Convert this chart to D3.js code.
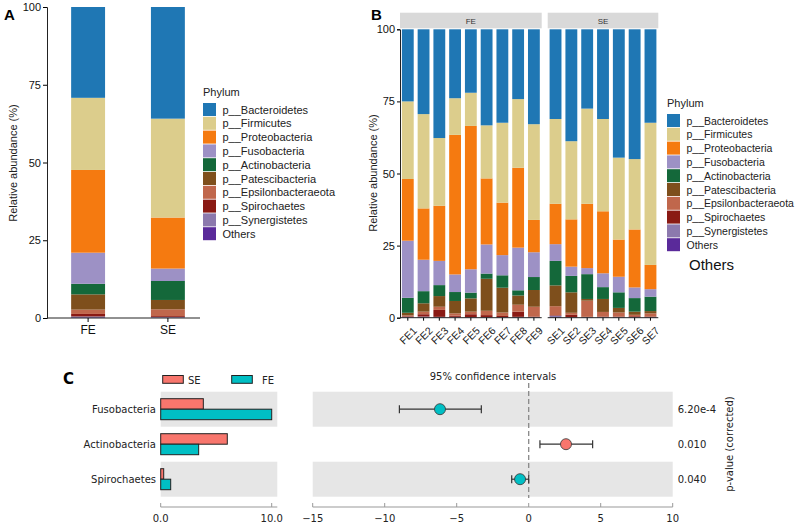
<!DOCTYPE html>
<html>
<head>
<meta charset="utf-8">
<script src="https://cdn.jsdelivr.net/npm/d3@7"></script>
<style>
body{margin:0;background:#fff}
svg text{font-family:Arial,"Liberation Sans",Helvetica,sans-serif}
.st text{font-family:"DejaVu Sans",sans-serif}
</style>
</head>
<body>
<div id="chart"></div>
<script>
var W=798,H=527

// phyla, bottom-to-top order in the legend
var phyla=["p__Bacteroidetes","p__Firmicutes","p__Proteobacteria","p__Fusobacteria","p__Actinobacteria","p__Patescibacteria","p__Epsilonbacteraeota","p__Spirochaetes","p__Synergistetes","Others"]
var colors=["#1f77b4","#dccd8c","#f57a10","#9d91c5","#14683a","#7e4f1c","#c0674c","#8a1a14","#8c79ad","#5a2a9a"]

// panel A, group means (%)
var groups=["FE","SE"]
var groupVals={
 "FE":[29.2,23.2,26.6,10.0,3.4,4.9,1.4,0.8,0.3,0.2],
 "SE":[35.9,31.8,16.4,4.0,6.1,3.0,2.2,0.3,0.2,0.1]
}

// panel B, per sample (%)
var feSamples=["FE1","FE2","FE3","FE4","FE5","FE6","FE7","FE8","FE9"]
var seSamples=["SE1","SE2","SE3","SE4","SE5","SE6","SE7"]
var sampleVals={
 "FE1":[25.0,26.9,21.4,19.8,5.2,0.9,0.3,0.2,0.2,0.1],
 "FE2":[29.4,32.7,17.8,10.9,4.2,2.9,0.9,0.8,0.3,0.1],
 "FE3":[37.7,23.5,19.1,8.4,3.8,3.7,1.1,2.4,0.2,0.1],
 "FE4":[23.9,12.7,48.4,6.1,3.1,4.3,0.8,0.4,0.2,0.1],
 "FE5":[22.0,11.5,49.7,8.1,2.0,4.6,0.9,1.0,0.1,0.1],
 "FE6":[33.3,18.4,22.9,10.1,1.8,11.1,1.5,0.7,0.1,0.1],
 "FE7":[32.4,27.7,18.2,7.0,4.3,8.6,1.2,0.4,0.1,0.1],
 "FE8":[24.2,23.8,27.7,14.8,1.8,3.2,2.4,1.8,0.2,0.1],
 "FE9":[32.9,33.2,11.2,8.6,4.5,5.8,3.4,0.2,0.1,0.1],
 "SE1":[31.1,29.4,14.0,5.8,8.5,7.2,3.1,0.2,0.5,0.2],
 "SE2":[38.8,27.1,16.4,3.2,5.7,7.1,0.7,0.8,0.1,0.1],
 "SE3":[27.5,33.0,22.3,2.1,8.6,0.6,5.6,0.1,0.1,0.1],
 "SE4":[31.1,32.0,21.5,4.8,4.1,4.5,1.6,0.2,0.1,0.1],
 "SE5":[44.5,28.4,12.9,5.4,5.4,1.6,1.4,0.2,0.1,0.1],
 "SE6":[45.0,24.4,20.1,3.7,4.7,1.1,0.5,0.3,0.1,0.1],
 "SE7":[32.4,49.3,8.4,2.6,5.0,0.8,1.1,0.2,0.1,0.1]
}
var yTicks=[0,25,50,75,100]

// panel C
var taxa=["Fusobacteria","Actinobacteria","Spirochaetes"]
var meanSE=[3.84,6.0,0.27]
var meanFE=[10.0,3.42,0.9]
var diff=[-6.16,2.59,-0.60]
var ciLow=[-8.98,0.78,-1.18]
var ciHigh=[-3.29,4.44,0.0]
var pvals=["6.20e-4","0.010","0.040"]
var barTicks=[0,10]
var ciTicks=[-15,-10,-5,0,5,10]

var svg=d3.select("#chart").append("svg").attr("width",W).attr("height",H)

function toRows(names,vals){
  return names.map(function(n){
    var r={name:n}
    phyla.forEach(function(p,i){r[p]=vals[n][i]})
    return r
  })
}
var stack=d3.stack().keys(phyla.slice().reverse())
var color=d3.scaleOrdinal().domain(phyla).range(colors)

// ---------- A ----------
var yA=d3.scaleLinear().domain([0,100]).range([318,7])
var xA=d3.scaleBand().domain(groups).range([48,208]).paddingInner(0.575).paddingOuter(0.29)
var gA=svg.append("g")
gA.selectAll("g.s").data(stack(toRows(groups,groupVals))).enter().append("g")
 .attr("fill",function(d){return color(d.key)})
 .selectAll("rect").data(function(d){return d}).enter().append("rect")
 .attr("x",function(d){return xA(d.data.name)})
 .attr("width",xA.bandwidth())
 .attr("y",function(d){return yA(d[1])})
 .attr("height",function(d){return yA(d[0])-yA(d[1])})
var axA=gA.append("g").attr("transform","translate(47,0)")
 .call(d3.axisLeft(yA).tickValues(yTicks).tickSize(4).tickPadding(2))
axA.selectAll("text").attr("font-size",11).attr("fill","#111")
axA.select(".domain").attr("stroke","#222")
var axAx=gA.append("g").attr("transform","translate(0,318)")
 .call(d3.axisBottom(xA).tickSize(4).tickPadding(3))
axAx.select(".domain").attr("d","M47,0H200").attr("stroke","#222")
axAx.selectAll("text").attr("font-size",12).attr("fill","#111")
gA.append("text").attr("transform","translate(17,163) rotate(-90)")
 .attr("text-anchor","middle").attr("font-size",11).attr("fill","#222").text("Relative abundance (%)")
svg.append("text").attr("x",4).attr("y",20).attr("font-size",15).attr("font-weight","bold").text("A")

function legend(x,y,fs){
  var g=svg.append("g").attr("transform","translate("+x+","+y+")")
  g.append("text").attr("x",0).attr("y",0).attr("font-size",11).attr("fill","#222").text("Phylum")
  var it=g.selectAll("g.it").data(phyla).enter().append("g")
   .attr("transform",function(d,i){return "translate(0,"+(7+i*13.8)+")"})
  it.append("rect").attr("width",13).attr("height",13).attr("fill",function(d){return color(d)})
  it.append("text").attr("x",19.5).attr("y",10.5).attr("font-size",fs).attr("fill","#222").text(function(d){return d})
  return g
}
legend(203,96,11)

// ---------- B ----------
var yB=d3.scaleLinear().domain([0,100]).range([317.7,29.3])
var panels=[{name:"FE",s:feSamples,x0:400,x1:541.7},{name:"SE",s:seSamples,x0:547.7,x1:658.3}]
panels.forEach(function(p,pi){
  var xB=d3.scaleBand().domain(p.s).range([p.x0,p.x1]).paddingInner(0.25).paddingOuter(0.12)
  var g=svg.append("g")
  g.append("rect").attr("x",p.x0).attr("y",12.7).attr("width",p.x1-p.x0).attr("height",15.6).attr("fill","#d9d9d9")
  g.append("text").attr("x",(p.x0+p.x1)/2).attr("y",23.5).attr("text-anchor","middle").attr("font-size",8).attr("fill","#333").text(p.name)
  g.selectAll("g.s").data(stack(toRows(p.s,sampleVals))).enter().append("g")
   .attr("fill",function(d){return color(d.key)})
   .selectAll("rect").data(function(d){return d}).enter().append("rect")
   .attr("x",function(d){return xB(d.data.name)})
   .attr("width",xB.bandwidth())
   .attr("y",function(d){return yB(d[1])})
   .attr("height",function(d){return yB(d[0])-yB(d[1])})
  var ax=g.append("g").attr("transform","translate(0,317.7)")
   .call(d3.axisBottom(xB).tickSize(3).tickPadding(2))
  ax.select(".domain").attr("d","M"+p.x0+",0H"+p.x1).attr("stroke","#222")
  ax.selectAll("text").attr("font-size",10.5).attr("fill","#222")
   .attr("text-anchor","end").attr("dy","0.3em")
   .attr("transform","translate(4,8) rotate(-45)")
  if(pi==0){
    var ay=g.append("g").attr("transform","translate(400,0)")
     .call(d3.axisLeft(yB).tickValues(yTicks).tickSize(3).tickPadding(2))
    ay.select(".domain").attr("stroke","#222")
    ay.selectAll("text").attr("font-size",11).attr("fill","#111")
  }
})
svg.append("text").attr("transform","translate(377,173) rotate(-90)")
 .attr("text-anchor","middle").attr("font-size",11).attr("fill","#222").text("Relative abundance (%)")
svg.append("text").attr("x",371).attr("y",20).attr("font-size",15).attr("font-weight","bold").text("B")
legend(667,107,10.5)
svg.append("text").attr("x",689).attr("y",270).attr("font-size",15).attr("fill","#111").text("Others")

// ---------- C ----------
var gC=svg.append("g").attr("class","st")
var rowY=d3.scaleBand().domain(taxa).range([391.7,496.7])
var xBar=d3.scaleLinear().domain([0,10]).range([160.7,271.7])
var xCI=d3.scaleLinear().domain([-15,10]).range([312.7,672.7])
var rh=rowY.bandwidth()

taxa.forEach(function(t,i){
  if(i%2==0){
    gC.append("rect").attr("x",160.7).attr("y",rowY(t)).attr("width",277.3-160.7).attr("height",rh).attr("fill","#e6e6e6")
    gC.append("rect").attr("x",312.7).attr("y",rowY(t)).attr("width",672.7-312.7).attr("height",rh).attr("fill","#e6e6e6")
  }
})
gC.selectAll("rect.se").data(taxa).enter().append("rect")
 .attr("x",xBar(0)).attr("y",function(t){return rowY(t)+7})
 .attr("width",function(t,i){return xBar(meanSE[i])-xBar(0)}).attr("height",10.5)
 .attr("fill","#f8766d").attr("stroke","#222").attr("stroke-width",1)
gC.selectAll("rect.fe").data(taxa).enter().append("rect")
 .attr("x",xBar(0)).attr("y",function(t){return rowY(t)+17.5})
 .attr("width",function(t,i){return xBar(meanFE[i])-xBar(0)}).attr("height",10.5)
 .attr("fill","#00bfc4").attr("stroke","#222").attr("stroke-width",1)
gC.selectAll("text.tx").data(taxa).enter().append("text")
 .attr("x",156).attr("y",function(t){return rowY(t)+rh/2+3.5})
 .attr("text-anchor","end").attr("font-size",10).attr("fill","#222").text(function(t){return t})

function gAxis(x,x0,x1,ticks,fmt){
  var g=gC.append("g").attr("transform","translate(0,507)")
  g.append("line").attr("x1",x0).attr("x2",x1).attr("stroke","#999").attr("stroke-width",1)
  g.selectAll("line.t").data(ticks).enter().append("line")
   .attr("x1",function(d){return x(d)}).attr("x2",function(d){return x(d)})
   .attr("y1",-4).attr("y2",0).attr("stroke","#999")
  g.selectAll("text").data(ticks).enter().append("text")
   .attr("x",function(d){return x(d)}).attr("y",15).attr("text-anchor","middle")
   .attr("font-size",10).attr("fill","#222").text(fmt)
}
gAxis(xBar,160.7,277.3,barTicks,function(d){return d3.format(".1f")(d)})
gAxis(xCI,312.7,672.7,ciTicks,function(d){return d<0?"\u2212"+Math.abs(d):d})

// legend C
gC.append("rect").attr("x",162.7).attr("y",375.5).attr("width",20.6).attr("height",7.8).attr("fill","#f8766d").attr("stroke","#222")
gC.append("text").attr("x",188).attr("y",383.5).attr("font-size",10).attr("fill","#222").text("SE")
gC.append("rect").attr("x",231.7).attr("y",375.5).attr("width",20.6).attr("height",7.8).attr("fill","#00bfc4").attr("stroke","#222")
gC.append("text").attr("x",262).attr("y",383.5).attr("font-size",10).attr("fill","#222").text("FE")

gC.append("line").attr("x1",xCI(0)).attr("x2",xCI(0)).attr("y1",383).attr("y2",498)
 .attr("stroke","#888").attr("stroke-width",1.3).attr("stroke-dasharray","5,3")
gC.append("text").attr("x",493).attr("y",380).attr("text-anchor","middle").attr("font-size",10).attr("fill","#222").text("95% confidence intervals")

taxa.forEach(function(t,i){
  var cy=rowY(t)+rh/2
  gC.append("line").attr("x1",xCI(ciLow[i])).attr("x2",xCI(ciHigh[i])).attr("y1",cy).attr("y2",cy).attr("stroke","#333").attr("stroke-width",1.2)
  ;[ciLow[i],ciHigh[i]].forEach(function(v){
    gC.append("line").attr("x1",xCI(v)).attr("x2",xCI(v)).attr("y1",cy-4).attr("y2",cy+4).attr("stroke","#333").attr("stroke-width",1.2)
  })
  gC.append("circle").attr("cx",xCI(diff[i])).attr("cy",cy).attr("r",5.5)
   .attr("fill",diff[i]<0?"#00bfc4":"#f8766d").attr("stroke","#333").attr("stroke-width",0.8)
  gC.append("text").attr("x",677.7).attr("y",cy+3.5).attr("font-size",10).attr("fill","#222").text(pvals[i])
})
gC.append("text").attr("transform","translate(733,444) rotate(-90)").attr("text-anchor","middle")
 .attr("font-size",10).attr("fill","#222").text("p-value (corrected)")
gC.append("text").attr("x",63).attr("y",384).attr("font-size",15).attr("font-weight","bold")
 .attr("font-family","Arial, Liberation Sans, sans-serif").text("C")
</script>
</body>
</html>
